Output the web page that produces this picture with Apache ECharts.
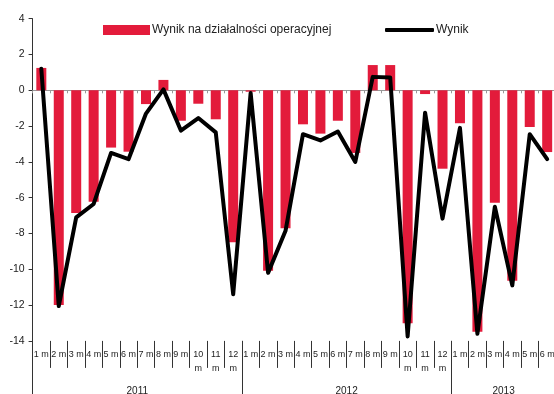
<!DOCTYPE html>
<html>
<head>
<meta charset="utf-8">
<script src="https://cdn.jsdelivr.net/npm/echarts@6/dist/echarts.min.js"></script>
<style>
  html, body { margin: 0; padding: 0; background: #fff; }
  #chart { width: 554px; height: 394px; }
</style>
</head>
<body>
<div id="chart"></div>
<script>
// Month labels per year and the years they belong to
const years = ['2011', '2012', '2013'];
const monthsPerYear = [12, 12, 6];
const monthLabels = [
  '1 m', '2 m', '3 m', '4 m', '5 m', '6 m', '7 m', '8 m', '9 m', '10\nm', '11\nm', '12\nm',
  '1 m', '2 m', '3 m', '4 m', '5 m', '6 m', '7 m', '8 m', '9 m', '10\nm', '11\nm', '12\nm',
  '1 m', '2 m', '3 m', '4 m', '5 m', '6 m'
];

// Operating result (bars) and total result (line)
const operacyjny = [
  1.25, -12.0, -6.85, -6.22, -3.2, -3.43, -0.77, 0.58, -1.7, -0.75, -1.62, -8.49,
  -0.08, -10.08, -7.71, -1.9, -2.42, -1.7, -3.5, 1.41, 1.41, -13.02, -0.21, -4.38,
  -1.84, -13.49, -6.28, -10.64, -2.05, -3.45
];
const wynik = [
  1.2, -12.05, -7.1, -6.35, -3.5, -3.85, -1.3, 0.05, -2.25, -1.55, -2.35, -11.4,
  -0.15, -10.2, -7.85, -2.45, -2.8, -2.3, -4.0, 0.75, 0.72, -13.75, -1.25, -7.17,
  -2.1, -13.6, -6.5, -10.9, -2.45, -3.85
];

const yTicks = { min: -14, max: 4, interval: 2 };

// Year boundaries and year label centres on a 0..N month scale
const yearBounds = [0];
const yearCentres = [];
monthsPerYear.forEach((n, i) => {
  const start = yearBounds[i];
  yearBounds.push(start + n);
  yearCentres.push(start + n / 2);
});
const totalMonths = yearBounds[yearBounds.length - 1];

const font = 'Liberation Sans, Arial, sans-serif';
const chart = echarts.init(document.getElementById('chart'));

chart.setOption({
  animation: false,
  grid: {
    left: 32.6, top: 18.7, width: 523.3, height: 322.2,
    outerBoundsMode: 'none'
  },
  legend: [
    {
      data: [{ name: 'Wynik na działalności operacyjnej', icon: 'rect' }],
      left: 103, top: 24, padding: 0,
      itemWidth: 47, itemHeight: 10,
      textStyle: { fontFamily: font, fontSize: 12, color: '#222', padding: [0, 0, 0, -3] }
    },
    {
      data: [{ name: 'Wynik', icon: 'roundRect' }],
      left: 385, top: 24, padding: 0,
      itemWidth: 49, itemHeight: 4,
      itemStyle: { color: '#000' },
      textStyle: { fontFamily: font, fontSize: 12, color: '#222', padding: [0, 0, 0, -3] }
    }
  ],
  xAxis: [
    {
      // zero line with small ticks
      type: 'category',
      data: monthLabels,
      position: 'bottom',
      boundaryGap: true,
      axisLine: { show: true, onZero: true, lineStyle: { color: '#999', width: 1 } },
      axisTick: { show: true, interval: 0, length: 3, lineStyle: { color: '#999' } },
      axisLabel: { show: false }
    },
    {
      // month labels with separators
      type: 'category',
      data: monthLabels,
      position: 'bottom',
      boundaryGap: true,
      axisLine: { show: false, onZero: false },
      axisTick: { show: true, interval: 0, length: 27, lineStyle: { color: '#333' } },
      axisLabel: {
        interval: 0, margin: 7, fontFamily: font, fontSize: 9,
        lineHeight: 14, color: '#222'
      }
    },
    {
      // year labels with long separators
      type: 'value',
      position: 'bottom',
      min: 0, max: totalMonths,
      axisLine: { show: false, onZero: false },
      splitLine: { show: false },
      axisTick: {
        show: true, length: 54, customValues: yearBounds,
        lineStyle: { color: '#333' }
      },
      axisLabel: {
        customValues: yearCentres, margin: 45,
        fontFamily: font, fontSize: 10, color: '#222',
        formatter: v => years[yearCentres.indexOf(v)] || ''
      }
    }
  ],
  yAxis: {
    type: 'value',
    min: yTicks.min, max: yTicks.max, interval: yTicks.interval,
    axisLine: { show: true, onZero: false, lineStyle: { color: '#333', width: 1 } },
    axisTick: { show: true, length: 4, lineStyle: { color: '#333' } },
    splitLine: { show: false },
    axisLabel: { margin: 8, fontFamily: font, fontSize: 10.5, color: '#222' }
  },
  series: [
    {
      name: 'Wynik na działalności operacyjnej',
      type: 'bar',
      xAxisIndex: 0,
      data: operacyjny,
      barWidth: 10,
      itemStyle: { color: '#e31b3b' },
      z: 1
    },
    {
      name: 'Wynik',
      type: 'line',
      xAxisIndex: 0,
      data: wynik,
      symbol: 'none',
      lineStyle: { color: '#000', width: 4, join: 'round', cap: 'round' },
      itemStyle: { color: '#000' },
      z: 3
    }
  ]
});
</script>
</body>
</html>
